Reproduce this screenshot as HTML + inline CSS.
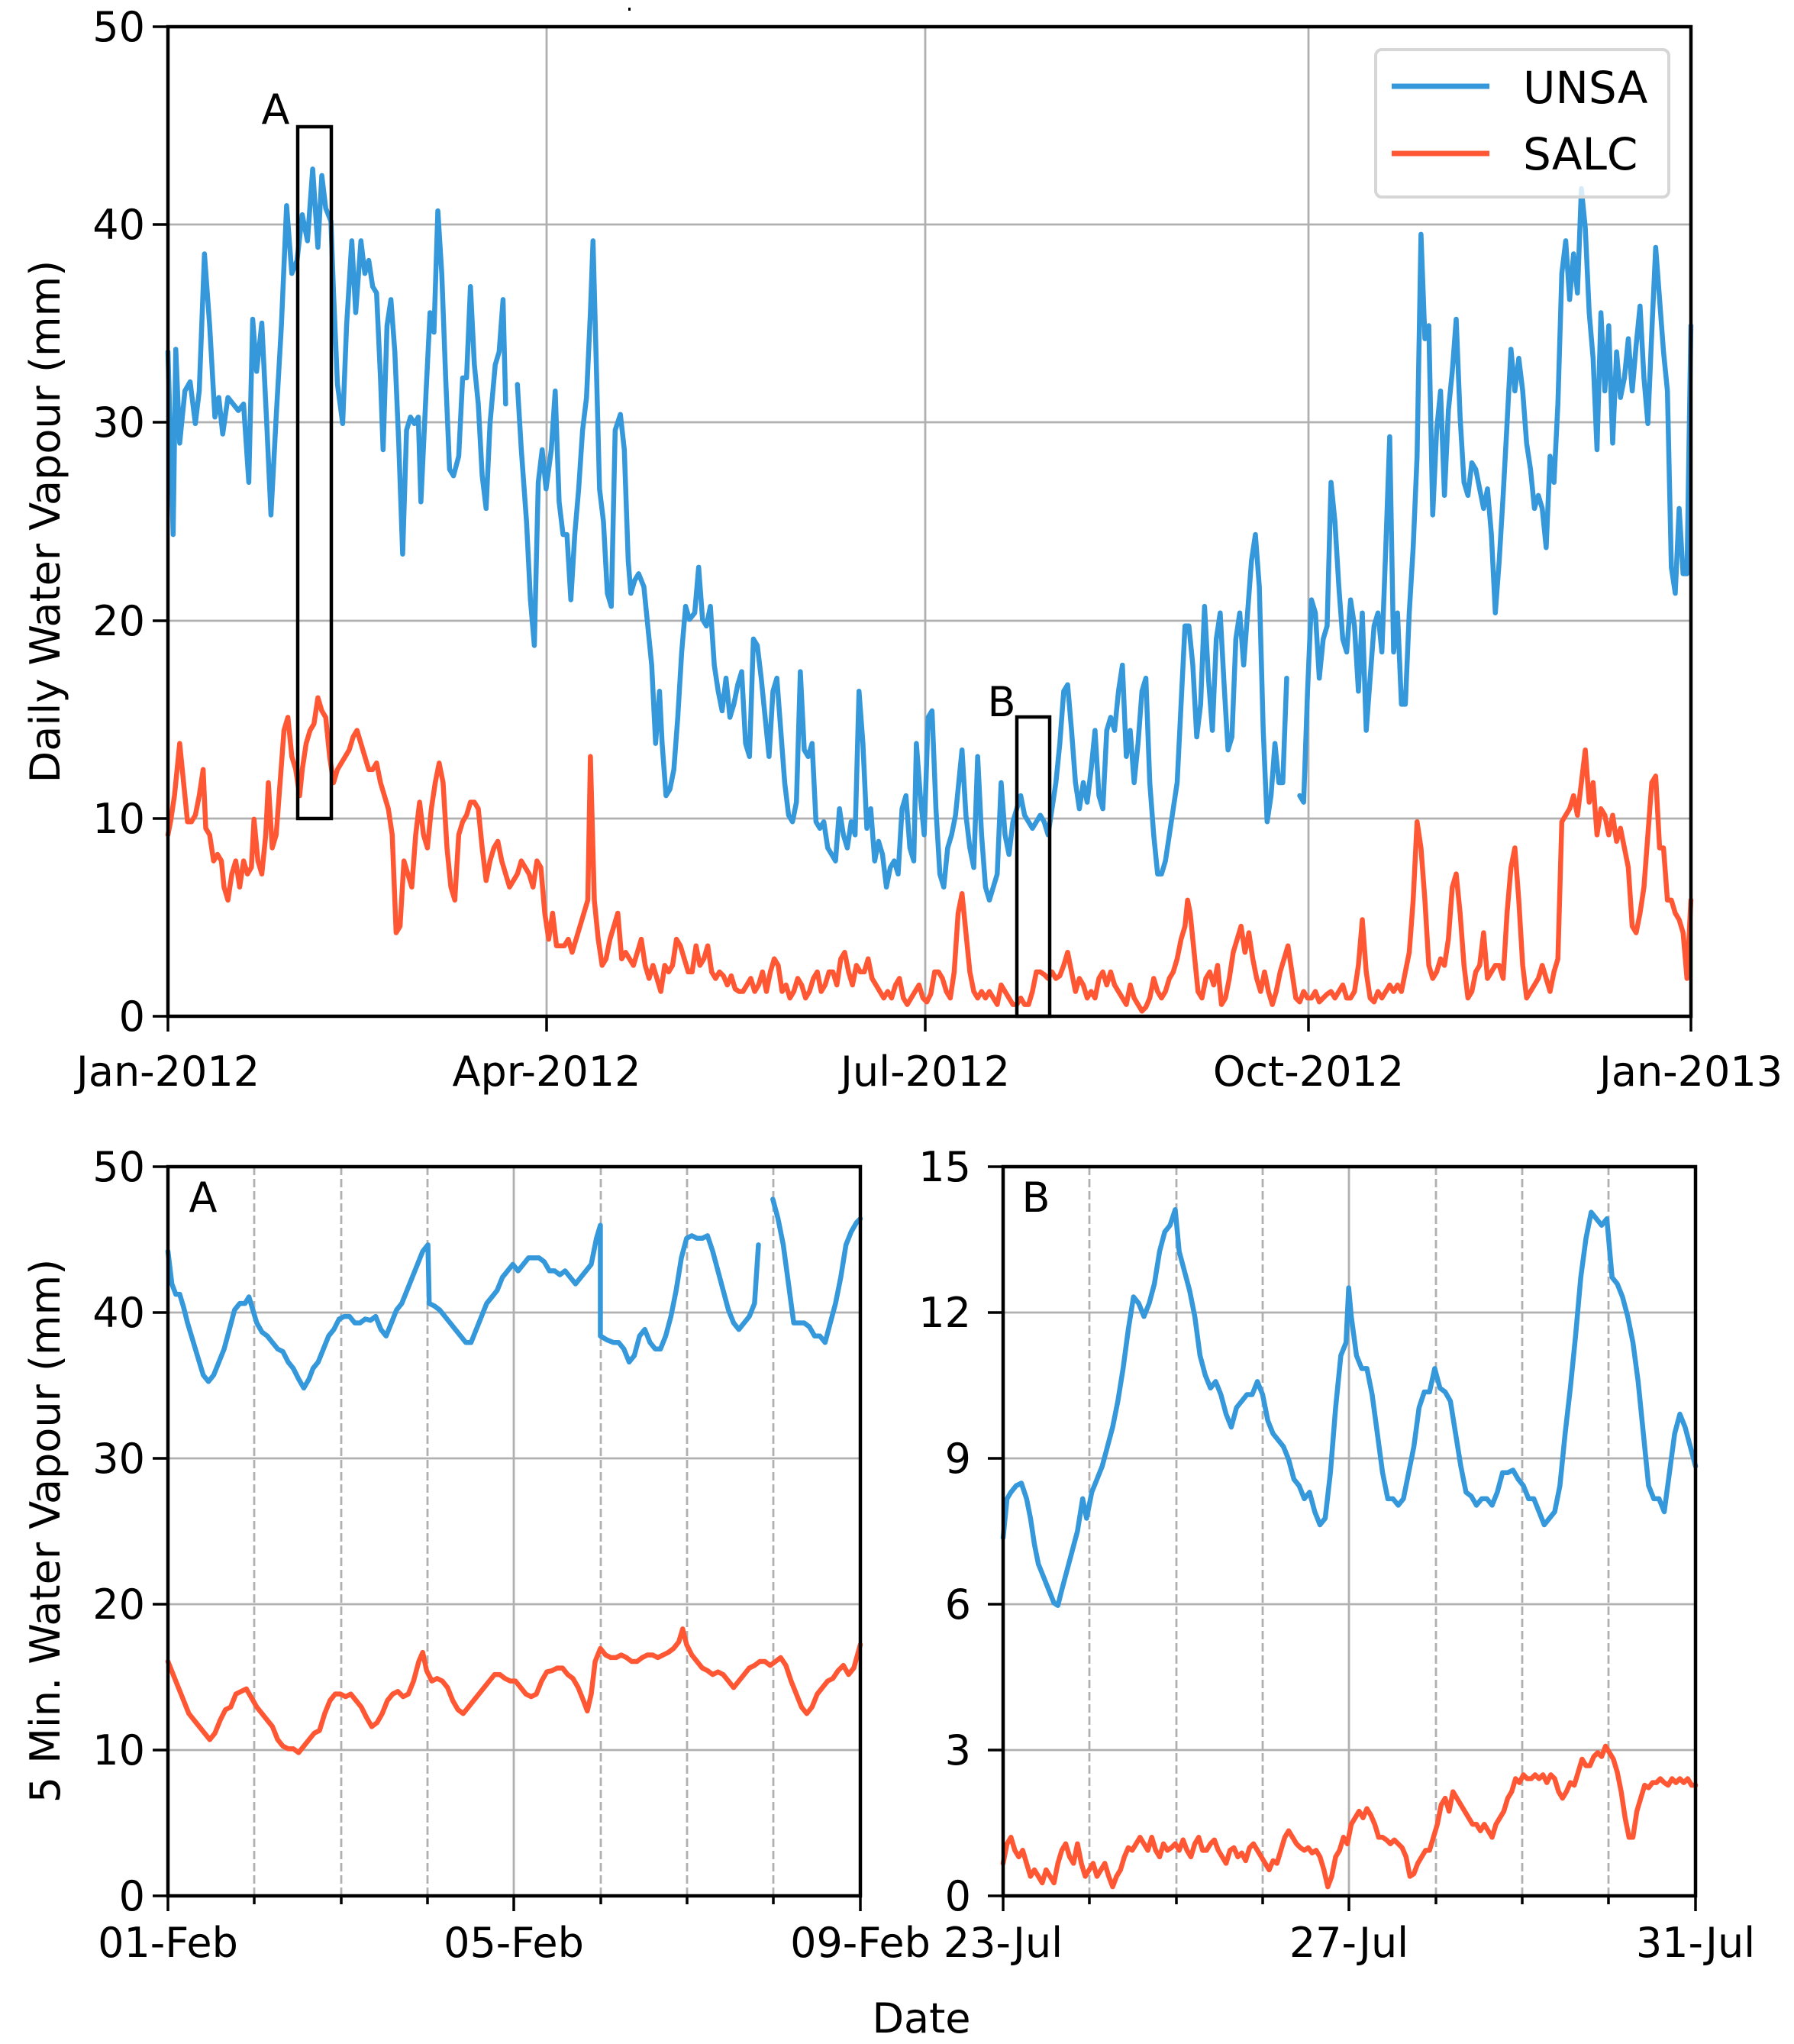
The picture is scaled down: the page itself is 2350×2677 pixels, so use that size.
<!DOCTYPE html>
<html><head><meta charset="utf-8"><style>
html,body{margin:0;padding:0;background:#fff;}
svg{display:block;}
text{font-family:"DejaVu Sans","Liberation Sans",sans-serif;fill:#000;}
.ser{fill:none;stroke-width:6.5;vector-effect:non-scaling-stroke;stroke-linejoin:round;stroke-linecap:round;}
.u{stroke:#3498db;}
.s{stroke:#ff5733;}
.g{stroke:#b0b0b0;stroke-width:2.8;fill:none;}
.gd{stroke:#b0b0b0;stroke-width:2.8;stroke-dasharray:11,5;fill:none;}
.ax{stroke:#000;stroke-width:4.5;fill:none;}
.tk{stroke:#000;stroke-width:3.5;}
</style></head><body>
<svg width="2350" height="2677" viewBox="0 0 2350 2677" xmlns="http://www.w3.org/2000/svg">
<rect x="0" y="0" width="2350" height="2677" fill="#fff"/>
<rect x="823" y="10" width="3" height="4" fill="#000"/>

<g>
<line class="g" x1="716" y1="35" x2="716" y2="1331"/>
<line class="g" x1="1212" y1="35" x2="1212" y2="1331"/>
<line class="g" x1="1714" y1="35" x2="1714" y2="1331"/>
<line class="g" x1="220" y1="1072" x2="2215" y2="1072"/>
<line class="g" x1="220" y1="813" x2="2215" y2="813"/>
<line class="g" x1="220" y1="553" x2="2215" y2="553"/>
<line class="g" x1="220" y1="294" x2="2215" y2="294"/>
</g>
<g transform="translate(220,35) scale(1.708,1.7098) translate(-129,-21)">
<polyline class="ser u" points="129,270 133,410 135,268 138,340 142,300 146,293 150,325 153,300 157,195 161,250 165,320 168,305 171,333 175,305 179,310 183,315 187,310 191,370 194,245 197,285 201,248 205,330 208,395 212,320 216,250 220,158 224,210 228,200 232,165 236,185 240,130 244,190 247,135 250,160 254,170 256,225 259,295 263,325 266,250 270,185 273,240 277,185 280,210 283,200 286,220 289,225 292,290 294,345 297,250 300,230 303,270 306,340 309,425 312,330 315,320 318,325 321,320 323,385 327,300 330,240 333,255 336,162 339,210 342,290 345,360 348,365 352,350 355,290 358,290 361,220 364,280 367,310 370,365 373,390 376,325 380,280 383,270 386,230 388,310"/>
<polyline class="ser u" points="397,295 400,345 404,400 407,460 410,495 413,370 416,345 419,375 423,345 426,300 429,385 432,410 435,410 438,460 441,410 444,375 447,330 450,305 453,240 455,185 457,260 460,375 463,400 466,455 469,465 472,330 476,318 479,345 482,430 484,455 487,445 490,440 494,450 497,480 500,510 503,570 506,530 508,570 511,610 514,605 517,590 520,550 523,500 526,465 529,475 533,470 536,435 539,475 542,480 545,465 548,510 551,530 554,545 557,520 560,550 563,540 566,525 569,515 572,570 575,580 578,490 581,495 584,520 587,550 590,580 593,530 596,520 599,560 602,600 605,625 608,630 611,615 614,515 617,575 620,580 623,570 626,630 629,635 632,630 635,650 638,655 641,660 644,620 647,640 650,650 653,630 656,640 659,530 662,570 665,635 668,620 671,660 674,645 677,655 680,680 683,665 686,660 689,670 692,620 695,610 698,650 701,660 703,570 706,610 709,640 712,550 715,545 718,620 721,670 724,680 727,650 730,640 733,625 736,595 738,575 741,625 744,650 747,665 750,580 753,640 756,680 759,690 762,680 765,670 768,600 771,640 774,655 777,630 780,620 783,610 786,625 789,630 792,635 795,630 798,625 801,630 804,640 807,620 810,600 813,570 816,530 819,525 822,560 825,600 828,620 831,600 834,615 837,590 840,560 843,610 846,620 849,560 852,550 855,560 858,530 861,510 864,580 867,560 870,600 873,570 876,530 879,520 882,600 885,640 888,670 891,670 894,660 897,640 900,620 903,600 906,540 909,480 912,480 915,510 918,565 921,540 924,465 927,520 930,560 933,490 936,470 939,525 942,575 945,565 948,490 951,470 954,510 957,470 960,430 963,410 966,450 969,560 972,630 975,610 978,570 981,600 984,600 987,520"/>
<polyline class="ser u" points="997,610 1000,615 1003,530 1006,460 1009,470 1012,520 1015,490 1018,480 1021,370 1024,400 1027,450 1030,490 1033,500 1036,460 1039,480 1042,530 1045,470 1048,560 1051,520 1054,480 1057,470 1060,500 1063,420 1066,335 1069,500 1072,470 1075,540 1078,540 1081,470 1084,420 1087,350 1090,180 1093,260 1096,250 1099,395 1102,330 1105,300 1108,380 1111,315 1114,285 1117,245 1120,320 1123,370 1126,380 1129,355 1132,360 1135,375 1138,390 1141,375 1144,410 1147,470 1150,430 1153,380 1156,325 1159,268 1162,300 1165,275 1168,300 1171,340 1174,360 1177,390 1180,380 1183,390 1186,420 1189,350 1192,370 1195,310 1198,210 1201,185 1204,230 1207,195 1210,225 1213,145 1216,175 1219,240 1222,275 1225,345 1228,240 1231,300 1234,250 1237,340 1240,270 1243,305 1246,290 1249,260 1252,300 1255,265 1258,235 1261,290 1264,325 1267,255 1270,190 1273,230 1276,270 1279,300 1282,435 1285,455 1288,390 1291,440 1294,440 1297,250"/>
<polyline class="ser s" points="129,640 131,630 134,610 138,570 141,600 144,630 147,630 150,625 153,610 156,590 158,635 161,640 164,660 167,655 170,660 172,680 175,690 178,670 181,660 184,680 187,660 190,670 193,665 195,628 198,660 201,670 204,640 206,600 209,650 212,640 215,600 218,560 221,550 224,580 227,590 230,610 232,590 235,570 238,560 241,555 244,535 247,545 250,550 253,580 256,600 259,590 262,585 265,580 268,575 271,565 274,560 277,570 280,580 283,590 286,590 289,585 292,600 295,610 298,620 301,640 304,715 307,710 310,660 313,670 316,680 319,640 322,615 325,640 328,650 331,620 334,600 337,585 340,600 343,650 346,680 349,690 352,640 355,630 358,625 361,615 364,615 367,620 370,650 373,675 376,660 379,650 382,645 385,660 388,670 391,680 394,675 397,670 400,660 403,665 406,670 409,680 412,660 415,665 418,700 421,720 424,700 427,725 430,725 433,725 436,720 439,730 442,720 445,710 448,700 451,690 453,580 456,690 459,720 462,740 465,735 468,720 471,710 474,700 477,735 480,730 483,735 486,740 489,730 492,720 495,740 498,750 501,740 504,750 507,760 510,740 513,745 516,740 519,720 522,725 525,735 528,745 531,745 534,725 537,740 540,735 543,725 546,745 549,750 552,745 555,748 558,755 561,748 564,758 567,760 570,760 573,755 576,750 579,760 582,755 585,745 588,760 591,745 594,735 597,740 600,760 603,755 606,765 609,760 612,750 615,755 618,765 621,760 624,750 627,745 630,760 633,755 636,745 639,745 642,755 645,735 648,730 651,745 654,755 657,740 660,745 663,745 666,735 669,750 672,755 675,760 678,765 681,760 684,765 687,755 690,750 693,765 696,770 699,765 702,760 705,755 708,765 711,768 714,762 717,745 720,745 723,750 726,760 729,765 732,745 735,700 738,685 741,715 744,745 747,760 750,765 753,760 756,765 759,760 762,765 765,770 768,755 771,760 774,765 777,770 780,770 783,765 786,770 789,770 792,760 795,745 798,745 801,747 804,750 807,745 810,750 813,748 816,740 819,730 822,745 825,760 828,750 831,755 834,765 837,760 840,765 843,750 846,745 849,755 852,745 855,755 858,760 861,765 864,770 867,755 870,765 873,770 876,775 879,772 882,765 885,750 888,760 891,765 894,760 897,750 900,745 903,735 906,720 909,710 911,690 913,700 916,730 919,760 922,765 925,750 928,745 931,755 934,740 937,770 940,765 943,750 946,730 949,720 952,710 955,730 958,715 961,735 964,750 967,760 970,745 973,760 976,770 979,760 982,745 985,735 988,725 991,745 994,765 997,768 1000,760 1003,765 1006,765 1009,760 1012,768 1015,765 1018,762 1021,760 1024,765 1027,760 1030,755 1033,765 1036,765 1039,760 1042,740 1045,705 1048,745 1051,765 1054,768 1057,760 1060,765 1063,760 1066,755 1069,760 1072,755 1075,760 1078,745 1081,730 1084,690 1087,630 1090,650 1093,690 1096,740 1099,750 1102,745 1105,735 1108,740 1111,720 1114,680 1117,670 1120,700 1123,740 1126,765 1129,760 1132,745 1135,740 1138,715 1141,750 1144,745 1147,740 1150,740 1153,750 1156,700 1159,665 1162,650 1165,690 1168,740 1171,765 1174,760 1177,755 1180,750 1183,740 1186,750 1189,760 1192,745 1195,735 1198,630 1201,625 1204,620 1207,610 1210,625 1213,600 1216,575 1219,615 1222,600 1225,640 1228,620 1231,625 1234,640 1237,625 1240,645 1243,635 1246,650 1249,665 1252,710 1255,715 1258,700 1261,680 1264,640 1267,600 1270,595 1273,650 1276,650 1279,690 1282,690 1285,700 1288,705 1291,715 1294,750 1297,690"/>
</g>
<rect x="390" y="166" width="44" height="906" fill="none" stroke="#000" stroke-width="4.5"/>
<rect x="1332" y="939" width="43" height="392" fill="none" stroke="#000" stroke-width="4.5"/>
<text x="361" y="162" font-size="54" text-anchor="middle">A</text>
<text x="1312" y="938" font-size="54" text-anchor="middle">B</text>
<rect x="1802" y="65" width="384" height="193" rx="8" fill="#fff" fill-opacity="0.8" stroke="#d6d6d6" stroke-width="4"/>
<line x1="1823" y1="113" x2="1951" y2="113" stroke="#3498db" stroke-width="7"/>
<line x1="1823" y1="201" x2="1951" y2="201" stroke="#ff5733" stroke-width="7"/>
<text x="1995" y="135" font-size="58">UNSA</text>
<text x="1995" y="222" font-size="58">SALC</text>
<rect class="ax" x="220" y="35" width="1995" height="1296"/>
<g class="tk">
<line x1="220" y1="1331" x2="220" y2="1351"/><line x1="716" y1="1331" x2="716" y2="1351"/><line x1="1212" y1="1331" x2="1212" y2="1351"/><line x1="1714" y1="1331" x2="1714" y2="1351"/><line x1="2215" y1="1331" x2="2215" y2="1351"/>
<line x1="200" y1="1331" x2="220" y2="1331"/><line x1="200" y1="1072" x2="220" y2="1072"/><line x1="200" y1="813" x2="220" y2="813"/><line x1="200" y1="553" x2="220" y2="553"/><line x1="200" y1="294" x2="220" y2="294"/><line x1="200" y1="35" x2="220" y2="35"/>
</g>
<g font-size="54" text-anchor="end">
<text x="190" y="1350">0</text><text x="190" y="1091">10</text><text x="190" y="832">20</text><text x="190" y="572">30</text><text x="190" y="313">40</text><text x="190" y="54">50</text>
</g>
<g font-size="54" text-anchor="middle">
<text x="220" y="1422">Jan-2012</text><text x="716" y="1422">Apr-2012</text><text x="1212" y="1422">Jul-2012</text><text x="1714" y="1422">Oct-2012</text><text x="2215" y="1422">Jan-2013</text>
</g>
<text transform="translate(78,683) rotate(-90)" font-size="54" text-anchor="middle">Daily Water Vapour (mm)</text>

<g>
<line class="gd" x1="333" y1="1528" x2="333" y2="2483"/><line class="gd" x1="447" y1="1528" x2="447" y2="2483"/><line class="gd" x1="560" y1="1528" x2="560" y2="2483"/><line class="gd" x1="787" y1="1528" x2="787" y2="2483"/><line class="gd" x1="900" y1="1528" x2="900" y2="2483"/><line class="gd" x1="1013" y1="1528" x2="1013" y2="2483"/>
<line class="g" x1="673" y1="1528" x2="673" y2="2483"/>
<line class="g" x1="220" y1="2292" x2="1127" y2="2292"/><line class="g" x1="220" y1="2101" x2="1127" y2="2101"/><line class="g" x1="220" y1="1910" x2="1127" y2="1910"/><line class="g" x1="220" y1="1719" x2="1127" y2="1719"/>
</g>
<g transform="translate(220,1528) scale(1.7113,1.7054) translate(-129,-895)">
<polyline class="ser u" points="129,960 132,985 135,993 138,993 141,1003 144,1015 147,1025 150,1035 153,1045 156,1055 160,1060 164,1055 168,1045 172,1035 176,1020 180,1005 184,1000 188,1000 191,995 194,1005 197,1015 201,1022 205,1025 209,1030 213,1035 217,1037 221,1045 225,1050 229,1058 233,1065 237,1058 240,1050 244,1045 248,1035 252,1025 256,1020 260,1012 264,1010 268,1010 272,1015 276,1015 280,1012 284,1013 288,1010 292,1020 296,1025 300,1015 304,1005 308,1000 312,990 316,980 320,970 324,960 328,955 329,1000 333,1002 337,1005 341,1010 345,1015 349,1020 353,1025 357,1030 361,1030 365,1020 369,1010 373,1000 377,995 381,990 385,980 389,975 393,970 397,975 401,970 405,965 409,965 413,965 417,968 421,975 425,975 429,978 433,975 437,980 441,985 445,980 449,975 453,970 457,950 460,940 460,1025 465,1028 470,1030 474,1030 478,1035 482,1045 486,1040 490,1025 494,1020 498,1030 502,1035 506,1035 510,1025 514,1010 518,990 522,965 526,950 530,948 534,950 538,950 542,948 546,960 550,975 554,990 558,1005 562,1015 566,1020 570,1015 574,1010 578,1000 581,955"/>
<polyline class="ser u" points="592,920 596,935 600,955 604,985 608,1015 612,1015 616,1015 620,1018 624,1025 628,1025 632,1030 636,1015 640,1000 644,980 648,955 652,945 656,938 659,935"/>
<polyline class="ser s" points="129,1275 133,1285 137,1295 141,1305 145,1315 149,1320 153,1325 157,1330 161,1335 165,1330 169,1320 173,1312 177,1310 181,1300 185,1298 189,1296 193,1303 197,1310 201,1315 205,1320 209,1325 213,1335 217,1340 221,1342 225,1342 229,1345 233,1340 237,1335 241,1330 245,1328 249,1315 253,1305 257,1300 261,1300 265,1302 269,1300 273,1305 277,1310 281,1318 285,1325 289,1322 293,1315 297,1305 301,1300 305,1298 309,1302 313,1300 317,1290 321,1275 324,1268 327,1282 331,1290 335,1288 339,1290 343,1295 347,1305 351,1312 355,1315 359,1310 363,1305 367,1300 371,1295 375,1290 379,1285 383,1285 387,1288 391,1290 395,1290 399,1295 403,1300 407,1302 411,1300 415,1290 419,1283 423,1282 427,1280 431,1280 435,1285 439,1288 443,1295 447,1305 450,1313 453,1300 456,1275 460,1265 464,1270 468,1272 472,1272 476,1270 480,1272 484,1275 488,1275 492,1272 496,1270 500,1270 504,1272 508,1270 512,1268 516,1265 520,1260 523,1250 526,1262 530,1270 534,1275 538,1280 542,1282 546,1285 550,1283 554,1285 558,1290 562,1295 566,1290 570,1285 574,1280 578,1278 582,1275 586,1275 590,1278 594,1275 598,1272 602,1278 606,1290 610,1300 614,1310 618,1315 622,1310 626,1300 630,1295 634,1290 638,1288 642,1282 646,1278 650,1285 654,1280 659,1262"/>
</g>
<rect class="ax" x="220" y="1528" width="907" height="955"/>
<g class="tk">
<line x1="220" y1="2483" x2="220" y2="2503"/><line x1="673" y1="2483" x2="673" y2="2503"/><line x1="1127" y1="2483" x2="1127" y2="2503"/>
<line x1="333" y1="2483" x2="333" y2="2494"/><line x1="447" y1="2483" x2="447" y2="2494"/><line x1="560" y1="2483" x2="560" y2="2494"/><line x1="787" y1="2483" x2="787" y2="2494"/><line x1="900" y1="2483" x2="900" y2="2494"/><line x1="1013" y1="2483" x2="1013" y2="2494"/>
<line x1="200" y1="2483" x2="220" y2="2483"/><line x1="200" y1="2292" x2="220" y2="2292"/><line x1="200" y1="2101" x2="220" y2="2101"/><line x1="200" y1="1910" x2="220" y2="1910"/><line x1="200" y1="1719" x2="220" y2="1719"/><line x1="200" y1="1528" x2="220" y2="1528"/>
</g>
<g font-size="54" text-anchor="end">
<text x="190" y="2502">0</text><text x="190" y="2311">10</text><text x="190" y="2120">20</text><text x="190" y="1929">30</text><text x="190" y="1738">40</text><text x="190" y="1547">50</text>
</g>
<g font-size="54" text-anchor="middle">
<text x="220" y="2563">01-Feb</text><text x="673" y="2563">05-Feb</text><text x="1127" y="2563">09-Feb</text>
</g>
<text x="266" y="1587" font-size="54" text-anchor="middle">A</text>

<g>
<line class="gd" x1="1427" y1="1528" x2="1427" y2="2483"/><line class="gd" x1="1541" y1="1528" x2="1541" y2="2483"/><line class="gd" x1="1654" y1="1528" x2="1654" y2="2483"/><line class="gd" x1="1881" y1="1528" x2="1881" y2="2483"/><line class="gd" x1="1994" y1="1528" x2="1994" y2="2483"/><line class="gd" x1="2107" y1="1528" x2="2107" y2="2483"/>
<line class="g" x1="1767" y1="1528" x2="1767" y2="2483"/>
<line class="g" x1="1314" y1="2292" x2="2221" y2="2292"/><line class="g" x1="1314" y1="2101" x2="2221" y2="2101"/><line class="g" x1="1314" y1="1910" x2="2221" y2="1910"/><line class="g" x1="1314" y1="1719" x2="2221" y2="1719"/>
</g>
<g transform="translate(1314,1528) scale(1.7081,1.7054) translate(-769,-895)">
<polyline class="ser u" points="769,1180 772,1150 775,1145 779,1140 783,1138 787,1150 790,1165 793,1185 796,1200 800,1210 804,1220 808,1230 811,1232 814,1220 818,1205 822,1190 826,1175 830,1150 833,1165 837,1145 841,1135 845,1125 849,1110 853,1095 857,1075 861,1050 865,1020 869,995 873,1000 877,1010 881,1000 885,985 889,960 893,945 897,940 901,928 904,960 908,975 912,990 916,1010 920,1040 924,1055 928,1065 932,1060 936,1070 940,1085 944,1095 948,1080 952,1075 956,1070 960,1070 964,1060 968,1070 972,1090 976,1100 980,1105 984,1110 988,1120 992,1135 996,1140 1000,1150 1004,1145 1008,1160 1012,1170 1016,1165 1020,1130 1024,1080 1028,1040 1032,1030 1034,988 1036,1010 1040,1040 1044,1050 1048,1050 1052,1070 1056,1100 1060,1130 1064,1150 1068,1150 1072,1155 1076,1150 1080,1130 1084,1110 1088,1080 1092,1068 1096,1068 1100,1050 1104,1065 1108,1068 1112,1075 1116,1100 1120,1125 1124,1145 1128,1148 1132,1155 1136,1150 1140,1150 1144,1155 1148,1145 1152,1130 1156,1130 1160,1128 1164,1135 1168,1140 1172,1150 1176,1150 1180,1160 1184,1170 1188,1165 1192,1160 1196,1140 1200,1100 1204,1065 1208,1025 1212,980 1216,950 1220,930 1224,935 1228,940 1232,935 1236,980 1240,985 1244,995 1248,1010 1252,1030 1256,1060 1260,1100 1264,1140 1268,1150 1272,1150 1276,1160 1280,1130 1284,1100 1288,1085 1292,1095 1296,1110 1300,1125"/>
<polyline class="ser s" points="769,1430 772,1415 775,1410 778,1420 781,1425 784,1420 787,1430 790,1440 793,1435 796,1440 799,1445 802,1435 805,1440 808,1445 811,1430 814,1420 817,1415 820,1425 823,1430 826,1415 829,1430 832,1440 835,1435 838,1430 841,1440 844,1435 847,1430 850,1440 853,1448 856,1440 859,1435 862,1425 865,1418 868,1420 871,1415 874,1410 877,1415 880,1420 883,1410 886,1420 889,1425 892,1415 895,1420 898,1418 901,1415 904,1420 907,1412 910,1420 913,1425 916,1415 919,1410 922,1420 925,1420 928,1415 931,1412 934,1420 937,1425 940,1430 943,1420 946,1418 949,1425 952,1422 955,1428 958,1418 961,1415 964,1420 967,1425 970,1430 973,1435 976,1428 979,1430 982,1420 985,1410 988,1405 991,1410 994,1415 997,1418 1000,1420 1003,1418 1006,1422 1009,1420 1012,1425 1015,1435 1018,1448 1021,1440 1024,1425 1027,1420 1030,1410 1033,1415 1036,1400 1039,1395 1042,1390 1045,1395 1048,1388 1051,1393 1054,1400 1057,1410 1060,1410 1063,1412 1066,1415 1069,1412 1072,1415 1075,1418 1078,1425 1081,1440 1084,1438 1087,1430 1090,1425 1093,1420 1096,1420 1099,1410 1102,1400 1105,1385 1108,1380 1111,1390 1114,1375 1117,1380 1120,1385 1123,1390 1126,1395 1129,1400 1132,1400 1135,1405 1138,1400 1141,1405 1144,1410 1147,1400 1150,1395 1153,1390 1156,1380 1159,1375 1162,1365 1165,1368 1168,1362 1171,1365 1174,1365 1177,1362 1180,1365 1183,1362 1186,1368 1189,1362 1192,1365 1195,1375 1198,1380 1201,1375 1204,1368 1207,1370 1210,1360 1213,1350 1216,1355 1219,1355 1222,1348 1225,1345 1228,1348 1231,1340 1234,1345 1237,1350 1240,1360 1243,1375 1246,1395 1249,1410 1252,1410 1255,1390 1258,1380 1261,1370 1264,1372 1267,1368 1270,1368 1273,1365 1276,1368 1279,1370 1282,1365 1285,1368 1288,1365 1291,1368 1294,1365 1297,1370 1300,1370"/>
</g>
<rect class="ax" x="1314" y="1528" width="907" height="955"/>
<g class="tk">
<line x1="1314" y1="2483" x2="1314" y2="2503"/><line x1="1767" y1="2483" x2="1767" y2="2503"/><line x1="2221" y1="2483" x2="2221" y2="2503"/>
<line x1="1427" y1="2483" x2="1427" y2="2494"/><line x1="1541" y1="2483" x2="1541" y2="2494"/><line x1="1654" y1="2483" x2="1654" y2="2494"/><line x1="1881" y1="2483" x2="1881" y2="2494"/><line x1="1994" y1="2483" x2="1994" y2="2494"/><line x1="2107" y1="2483" x2="2107" y2="2494"/>
<line x1="1294" y1="2483" x2="1314" y2="2483"/><line x1="1294" y1="2292" x2="1314" y2="2292"/><line x1="1294" y1="2101" x2="1314" y2="2101"/><line x1="1294" y1="1910" x2="1314" y2="1910"/><line x1="1294" y1="1719" x2="1314" y2="1719"/><line x1="1294" y1="1528" x2="1314" y2="1528"/>
</g>
<g font-size="54" text-anchor="end">
<text x="1272" y="2502">0</text><text x="1272" y="2311">3</text><text x="1272" y="2120">6</text><text x="1272" y="1929">9</text><text x="1272" y="1738">12</text><text x="1272" y="1547">15</text>
</g>
<g font-size="54" text-anchor="middle">
<text x="1314" y="2563">23-Jul</text><text x="1767" y="2563">27-Jul</text><text x="2221" y="2563">31-Jul</text>
</g>
<text x="1357" y="1587" font-size="54" text-anchor="middle">B</text>

<text transform="translate(78,2005) rotate(-90)" font-size="54" text-anchor="middle">5 Min. Water Vapour (mm)</text>
<text x="1207" y="2662" font-size="54" text-anchor="middle">Date</text>
</svg>
</body></html>
